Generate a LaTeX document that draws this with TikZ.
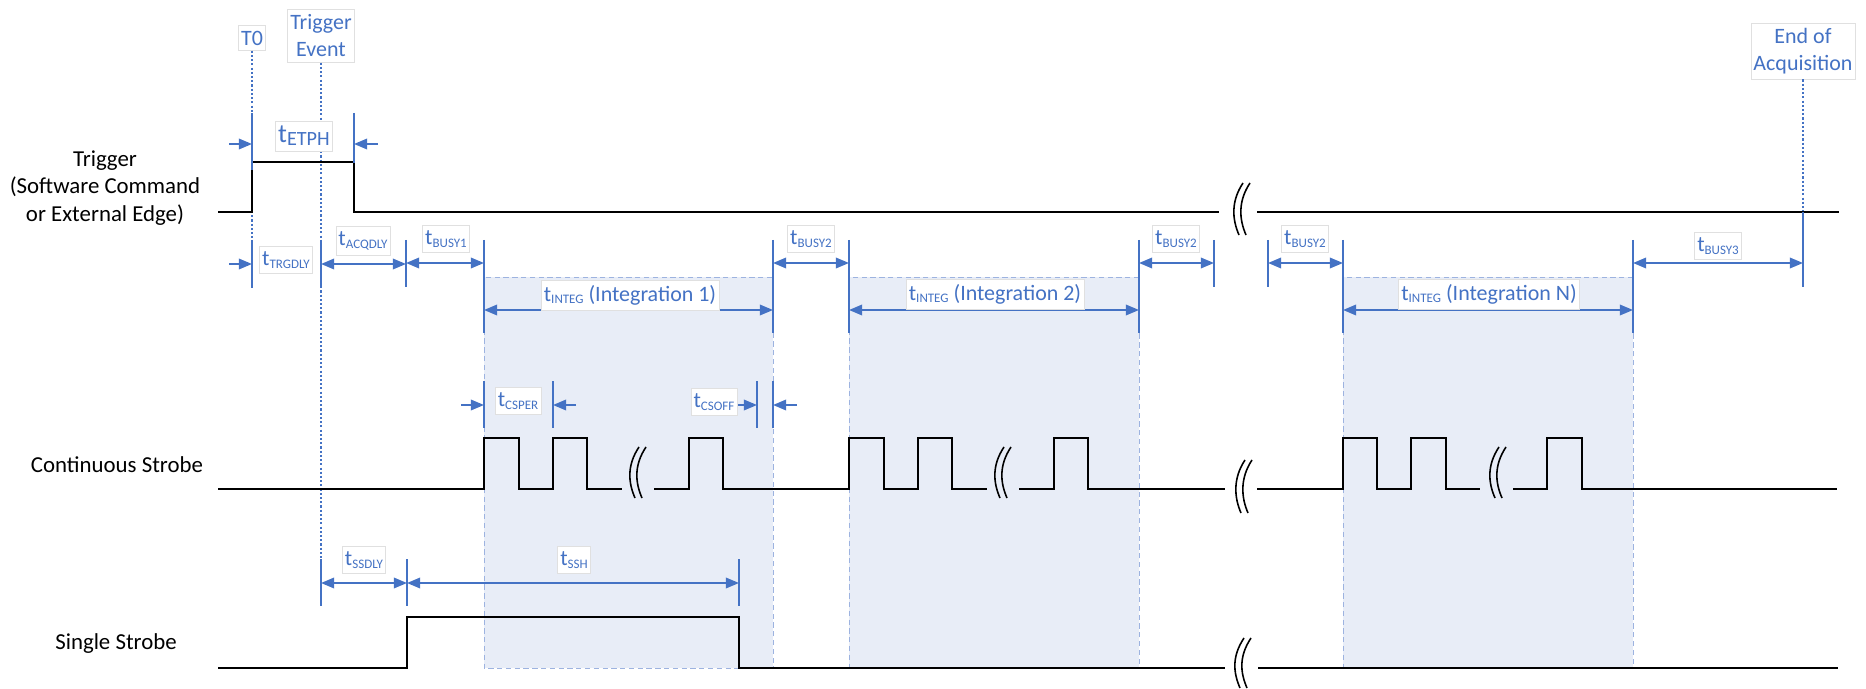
\documentclass[tikz,border=0pt]{standalone}
\usepackage{fontspec}
\setmainfont{Carlito}
\usetikzlibrary{arrows.meta}
\definecolor{dimblue}{HTML}{4472C4}
\definecolor{shadefill}{HTML}{E8EDF7}
\definecolor{shadeline}{HTML}{9DB3E0}
\tikzstyle{signal} = [line width=1.3pt,line join=miter]
\tikzstyle{cutline} = [line width=0.9pt]
\tikzstyle{marker} = [draw=dimblue,line width=1.1pt]
\tikzstyle{event} = [draw=dimblue,line width=1pt,dash pattern=on 1.2pt off 1.2pt]
\tikzstyle{span} = [draw=dimblue,line width=1.1pt,{Triangle[length=7.5pt,width=6pt]}-{Triangle[length=7.5pt,width=6pt]}]
\tikzstyle{inward} = [draw=dimblue,line width=1.1pt,-{Triangle[length=7.5pt,width=6pt]}]
\tikzstyle{integ} = [fill=shadefill,draw=shadeline,line width=0.5pt,dash pattern=on 3pt off 2pt]
\tikzstyle{lab} = [text=dimblue,fill=white,draw=black!12,line width=0.3pt,inner xsep=1.5pt,inner ysep=3pt,align=center,font=\fontsize{12.5}{15.4}\selectfont]
\tikzstyle{rowlabel} = [align=center,font=\fontsize{13}{15.6}\selectfont]
\newcommand\tsub[1]{t\raisebox{-1.6pt}{\fontsize{7.4}{8}\selectfont #1}}
\newcommand\tsubbig[1]{{\fontsize{15}{16}\selectfont t}\raisebox{-1.8pt}{\fontsize{11.5}{12}\selectfont #1}}
\newcommand\sigbreak[3]{%
  \draw[cutline] (#1+9,#2) .. controls (#1-3,#2+18) and (#1-2,#3-16) .. (#1+5,#3);
  \draw[cutline] (#1+16,#2) .. controls (#1+4,#2+18) and (#1+5,#3-16) .. (#1+12,#3);}

\begin{document}
\begin{tikzpicture}[x=0.02cm,y=-0.02cm]
  \useasboundingbox (0,0) rectangle (1866,689);
  \draw[integ] (484,277) rectangle (773,668);
  \draw[integ] (849,277) rectangle (1139,668);
  \draw[integ] (1343,277) rectangle (1633,668);

  \node[rowlabel] (trg) at (105,188) {Trigger\\(Software Command\\or External Edge)};
  \node[rowlabel] (cont) at (117,465) {Continuous Strobe};
  \node[rowlabel] (single) at (116,644) {Single Strobe};

  \node[lab] (t0) at (252,38) {T0};
  \node[lab] (trgev) at (321,36) {Trigger\\Event};
  \node[lab] (endacq) at (1803,51) {End of\\Acquisition};
  \draw[event] (t0.south) -- (252,287);
  \draw[event] (trgev.south) -- (321,559);
  \draw[event] (endacq.south) -- (1803,212);

  \draw[signal] (218,212) -- (252,212) |- (354,162) |- (1219,212)
    (1257,212) -- (1839,212);
  \draw[signal] (218,489) -- (484,489) |- (519,438) |- (553,489) |- (587,438) |- (622,489)
    (654,489) -- (689,489) |- (723,438) |- (849,489) |- (884,438) |- (918,489) |- (952,438) |- (987,489)
    (1019,489) -- (1054,489) |- (1088,438) |- (1225,489)
    (1257,489) -- (1343,489) |- (1377,438) |- (1411,489) |- (1446,438) |- (1480,489)
    (1513,489) -- (1547,489) |- (1582,438) |- (1837,489);
  \draw[signal] (218,668) -- (407,668) |- (739,617) |- (1225,668)
    (1258,668) -- (1838,668);
  \sigbreak{1234}{183}{235}
  \sigbreak{1236}{460}{513}
  \sigbreak{1235}{638}{688}
  \sigbreak{630}{447}{498}
  \sigbreak{995}{447}{498}
  \sigbreak{1490}{447}{498}

  \draw[marker] (252,113) -- (252,170);
  \draw[marker] (354,113) -- (354,163);
  \draw[marker] (252,240) -- (252,287);
  \draw[marker] (321,240) -- (321,288);
  \draw[marker] (406,240) -- (406,287);
  \draw[marker] (484,240) -- (484,333);
  \draw[marker] (773,240) -- (773,333);
  \draw[marker] (849,240) -- (849,333);
  \draw[marker] (1139,240) -- (1139,333);
  \draw[marker] (1214,240) -- (1214,287);
  \draw[marker] (1268,240) -- (1268,287);
  \draw[marker] (1343,240) -- (1343,333);
  \draw[marker] (1633,240) -- (1633,333);
  \draw[marker] (1803,212) -- (1803,287);
  \draw[marker] (484,381) -- (484,428);
  \draw[marker] (553,381) -- (553,428);
  \draw[marker] (757,381) -- (757,428);
  \draw[marker] (773,381) -- (773,428);
  \draw[marker] (321,559) -- (321,606);
  \draw[marker] (407,559) -- (407,606);
  \draw[marker] (739,559) -- (739,606);

  \draw[inward] (229,144) -- (252,144);
  \draw[inward] (378,144) -- (354,144);
  \draw[inward] (229,264) -- (252,264);
  \draw[span] (321,264) -- (406,264);
  \draw[span] (406,263) -- (484,263);
  \draw[span] (484,310) -- (773,310);
  \draw[span] (773,263) -- (849,263);
  \draw[span] (849,310) -- (1139,310);
  \draw[span] (1139,263) -- (1214,263);
  \draw[span] (1268,263) -- (1343,263);
  \draw[span] (1343,310) -- (1633,310);
  \draw[span] (1633,263) -- (1803,263);
  \draw[inward] (461,405) -- (484,405);
  \draw[inward] (576,405) -- (553,405);
  \draw[inward] (737,405) -- (757,405);
  \draw[inward] (797,405) -- (773,405);
  \draw[span] (321,583) -- (407,583);
  \draw[span] (407,583) -- (739,583);

  \node[lab] (etph) at (304,136) {\tsubbig{ETPH}};
  \node[lab] (trgdly) at (286,260) {\tsub{TRGDLY}};
  \node[lab] (acqdly) at (363,241) {\tsub{ACQDLY}};
  \node[lab] (busya) at (446,239) {\tsub{BUSY1}};
  \node[lab] (intega) at (630,295) {\tsub{INTEG} (Integration 1)};
  \node[lab] (busyb) at (811,239) {\tsub{BUSY2}};
  \node[lab] (integb) at (995,294) {\tsub{INTEG} (Integration 2)};
  \node[lab] (busyc) at (1176,239) {\tsub{BUSY2}};
  \node[lab] (busyd) at (1305,239) {\tsub{BUSY2}};
  \node[lab] (integn) at (1489,294) {\tsub{INTEG} (Integration N)};
  \node[lab] (busye) at (1718,246) {\tsub{BUSY3}};
  \node[lab] (csper) at (518,401) {\tsub{CSPER}};
  \node[lab] (csoff) at (714,402) {\tsub{CSOFF}};
  \node[lab] (ssdly) at (364,560) {\tsub{SSDLY}};
  \node[lab] (ssh) at (574,560) {\tsub{SSH}};
\end{tikzpicture}
\end{document}
